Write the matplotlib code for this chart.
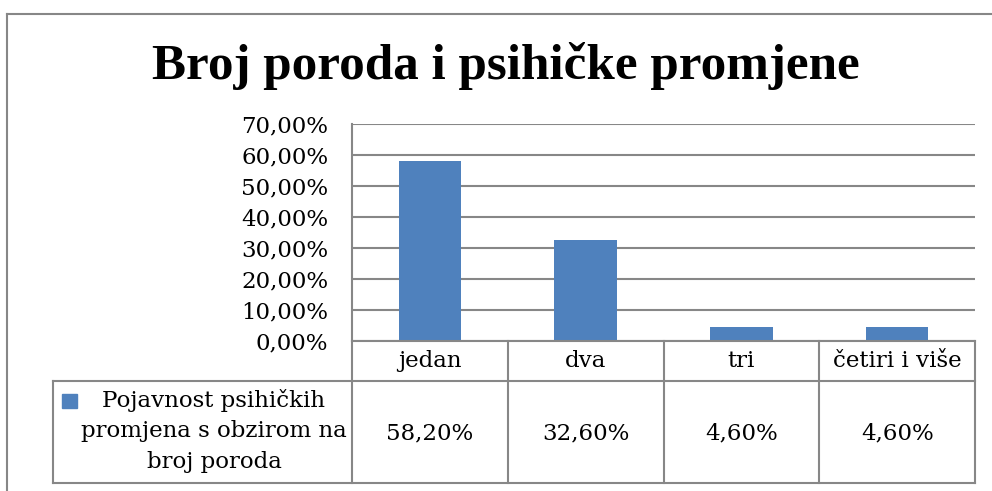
import numpy as np
import matplotlib
matplotlib.use('Agg')
import matplotlib.pyplot as plt
from matplotlib.lines import Line2D
from matplotlib.patches import Rectangle
from matplotlib.transforms import blended_transform_factory

# podaci
kategorije = ['jedan', 'dva', 'tri', 'četiri i više']
vrijednosti = [58.2, 32.6, 4.6, 4.6]
naziv_serije = 'Pojavnost psihičkih\npromjena s obzirom na\nbroj poroda'
naslov = 'Broj poroda i psihičke promjene'
y_ticks = [0, 10, 20, 30, 40, 50, 60, 70]

W, H = 992, 491
plava = '#4F81BD'
siva = '#878787'
font = 'DejaVu Serif'

def fx(x):
    return x / W

def fy(y):
    return 1 - y / H

fig = plt.figure(figsize=(W / 100, H / 100), dpi=100)
fig.patch.set_facecolor('white')

# okvir grafikona (odrezan desno i dolje)
fig.add_artist(Line2D([fx(7), 1.0], [fy(14), fy(14)], color=siva, lw=1.5, transform=fig.transFigure))
fig.add_artist(Line2D([fx(7), fx(7)], [fy(14), 0.0], color=siva, lw=1.5, transform=fig.transFigure))

ax = fig.add_axes([fx(352), fy(341), fx(975) - fx(352), fy(124) - fy(341)])
x = np.arange(len(kategorije))
ax.bar(x, vrijednosti, width=0.4, color=plava, zorder=3)
ax.set_xlim(-0.5, len(kategorije) - 0.5)
ax.set_ylim(0, 70)
ax.set_yticks(y_ticks)
ax.set_yticklabels([f'{v:.2f}%'.replace('.', ',') for v in y_ticks], fontsize=16.5, family=font)
ax.tick_params(axis='y', length=0, pad=17)
ax.set_xticks([])
ax.grid(axis='y', color=siva, lw=1.5, zorder=0)
for s in ['top', 'right', 'bottom']:
    ax.spines[s].set_visible(False)
ax.spines['left'].set_color(siva)
ax.spines['left'].set_linewidth(1.5)

# naslov
fig.text(fx(506), fy(66), naslov, ha='center', va='center', fontsize=36.8, fontweight='bold',
         family='Liberation Serif')

# tablica podataka
tr = blended_transform_factory(ax.transData, fig.transFigure)
granice = np.arange(len(kategorije) + 1) - 0.5
y_os, y_red, y_dno = fy(341), fy(381), fy(483)
fig.add_artist(Line2D([fx(352), fx(975)], [y_os, y_os], color=siva, lw=1.5, transform=fig.transFigure))
fig.add_artist(Line2D([fx(53), fx(975)], [y_red, y_red], color=siva, lw=1.5, transform=fig.transFigure))
fig.add_artist(Line2D([fx(53), fx(975)], [y_dno, y_dno], color=siva, lw=1.5, transform=fig.transFigure))
fig.add_artist(Line2D([fx(53), fx(53)], [y_red, y_dno], color=siva, lw=1.5, transform=fig.transFigure))
for g in granice:
    fig.add_artist(Line2D([g, g], [y_os, y_dno], color=siva, lw=1.5, transform=tr))

for i, (k, v) in enumerate(zip(kategorije, vrijednosti)):
    fig.text(i, fy(361), k, transform=tr, ha='center', va='center', fontsize=16.5, family=font)
    fig.text(i, fy(433), f'{v:.2f}%'.replace('.', ','), transform=tr, ha='center', va='center',
             fontsize=16.5, family=font)

# legenda u tablici
fig.add_artist(Rectangle((fx(62), fy(408)), fx(15), fy(394) - fy(408), color=plava, transform=fig.transFigure))
fig.text(fx(214), fy(431), naziv_serije, ha='center', va='center', fontsize=16.5, family=font,
         linespacing=1.5)

fig.savefig('out.png', dpi=100)
